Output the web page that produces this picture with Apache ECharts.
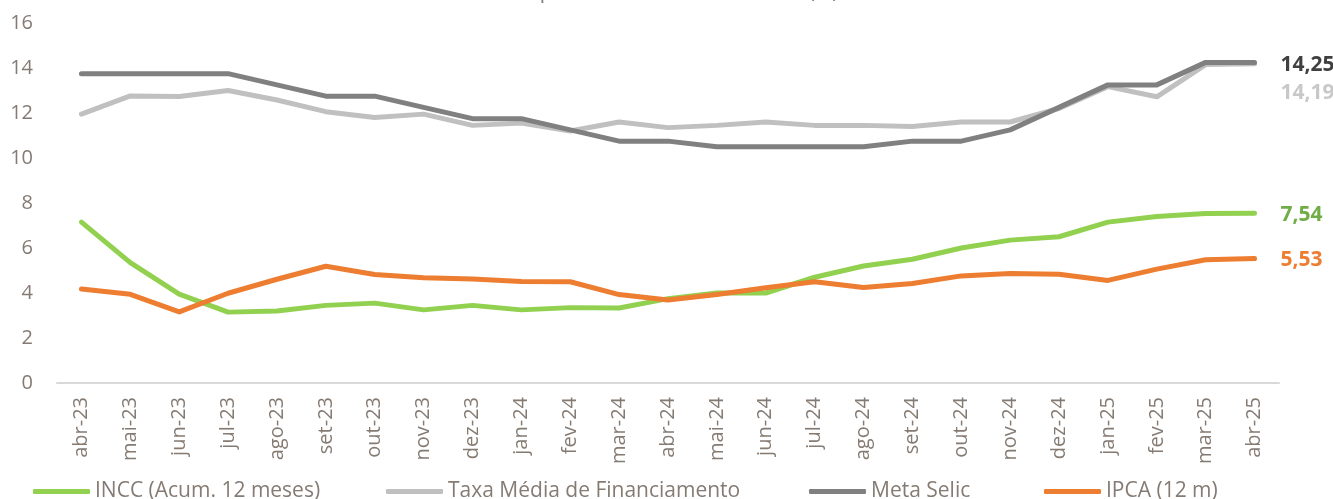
<!DOCTYPE html>
<html>
<head>
<meta charset="utf-8">
<title>Comparativo de Taxas e Índices (%)</title>
<script src="https://cdn.jsdelivr.net/npm/echarts/dist/echarts.min.js"></script>
<style>
html, body { margin: 0; padding: 0; background: #ffffff; }
#grafico { width: 1333px; height: 499px; }
</style>
</head>
<body>
<div id="grafico"></div>
<script>
// dados
var meses = ['abr-23','mai-23','jun-23','jul-23','ago-23','set-23','out-23','nov-23','dez-23',
	'jan-24','fev-24','mar-24','abr-24','mai-24','jun-24','jul-24','ago-24','set-24','out-24',
	'nov-24','dez-24','jan-25','fev-25','mar-25','abr-25'];

var incc = [7.15, 5.35, 3.95, 3.15, 3.2, 3.45, 3.55, 3.25, 3.45, 3.25, 3.35, 3.33, 3.75,
	4.0, 4.0, 4.7, 5.2, 5.5, 6.0, 6.35, 6.5, 7.15, 7.4, 7.53, 7.54];

var taxaFinanciamento = [11.95, 12.76, 12.73, 13.0, 12.58, 12.06, 11.8, 11.95, 11.45, 11.55,
	11.2, 11.6, 11.35, 11.45, 11.6, 11.45, 11.45, 11.4, 11.6, 11.6, 12.2, 13.17, 12.72, 14.15, 14.19];

var metaSelic = [13.75, 13.75, 13.75, 13.75, 13.25, 12.75, 12.75, 12.25, 11.75, 11.75, 11.25,
	10.75, 10.75, 10.5, 10.5, 10.5, 10.5, 10.75, 10.75, 11.25, 12.25, 13.25, 13.25, 14.25, 14.25];

var ipca = [4.18, 3.94, 3.16, 3.99, 4.61, 5.19, 4.82, 4.68, 4.62, 4.51, 4.50, 3.93, 3.69,
	3.93, 4.23, 4.50, 4.24, 4.42, 4.76, 4.87, 4.83, 4.56, 5.06, 5.48, 5.53];

var nomes = ['INCC (Acum. 12 meses)', 'Taxa Média de Financiamento', 'Meta Selic', 'IPCA (12 m)'];

var corTexto = '#857b73';
var fonte = '"Open Sans", "Noto Sans", sans-serif';

function virgula(p)
{
	return p.value.toFixed(2).replace('.', ',');
}

function serie(nome, dados, cor, corRotulo, dy)
{
	return {
		name: nome,
		type: 'line',
		data: dados,
		symbol: 'none',
		smooth: false,
		lineStyle: { color: cor, width: 5, cap: 'round', join: 'round' },
		itemStyle: { color: cor },
		emphasis: { disabled: true },
		endLabel: {
			show: true,
			formatter: virgula,
			offset: [18, dy],
			color: corRotulo,
			fontFamily: fonte,
			fontWeight: 'bold',
			fontSize: 21
		}
	};
}

function legenda(nome, x)
{
	return {
		data: [nome],
		left: x,
		top: 481,
		padding: 0,
		icon: 'roundRect',
		itemWidth: 57,
		itemHeight: 5,
		textStyle: { color: corTexto, fontFamily: fonte, fontSize: 21 }
	};
}

var myChart = echarts.init(document.getElementById('grafico'));
var option = {
	backgroundColor: '#ffffff',
	animation: false,
	title: {
		text: 'Comparativo de Taxas e Índices (%)',
		left: 'center',
		top: -20,
		padding: 0,
		textStyle: { color: corTexto, fontFamily: fonte, fontSize: 21, fontWeight: 'normal', lineHeight: 24 }
	},
	legend: [
		legenda(nomes[0], 33),
		legenda(nomes[1], 386),
		legenda(nomes[2], 809),
		legenda(nomes[3], 1044)
	],
	grid: { left: 57, right: 54, top: 23, bottom: 116 },
	xAxis: {
		type: 'category',
		data: meses,
		boundaryGap: true,
		axisLine: { lineStyle: { color: '#d9d9d9', width: 2 } },
		axisTick: { show: false },
		axisLabel: { rotate: 90, margin: 14, color: corTexto, fontFamily: fonte, fontSize: 20, interval: 0 }
	},
	yAxis: {
		type: 'value',
		min: 0,
		max: 16,
		interval: 2,
		splitLine: { show: false },
		axisLine: { show: false },
		axisTick: { show: false },
		axisLabel: { margin: 24, color: corTexto, fontFamily: fonte, fontSize: 20 }
	},
	series: [
		serie(nomes[0], incc, '#92d050', '#70ad47', 2),
		serie(nomes[1], taxaFinanciamento, '#c0c0c0', '#c8c8c8', 29),
		serie(nomes[2], metaSelic, '#808080', '#404040', 3),
		serie(nomes[3], ipca, '#ed7d31', '#ed7d31', 1)
	]
};
myChart.setOption(option);
</script>
</body>
</html>
